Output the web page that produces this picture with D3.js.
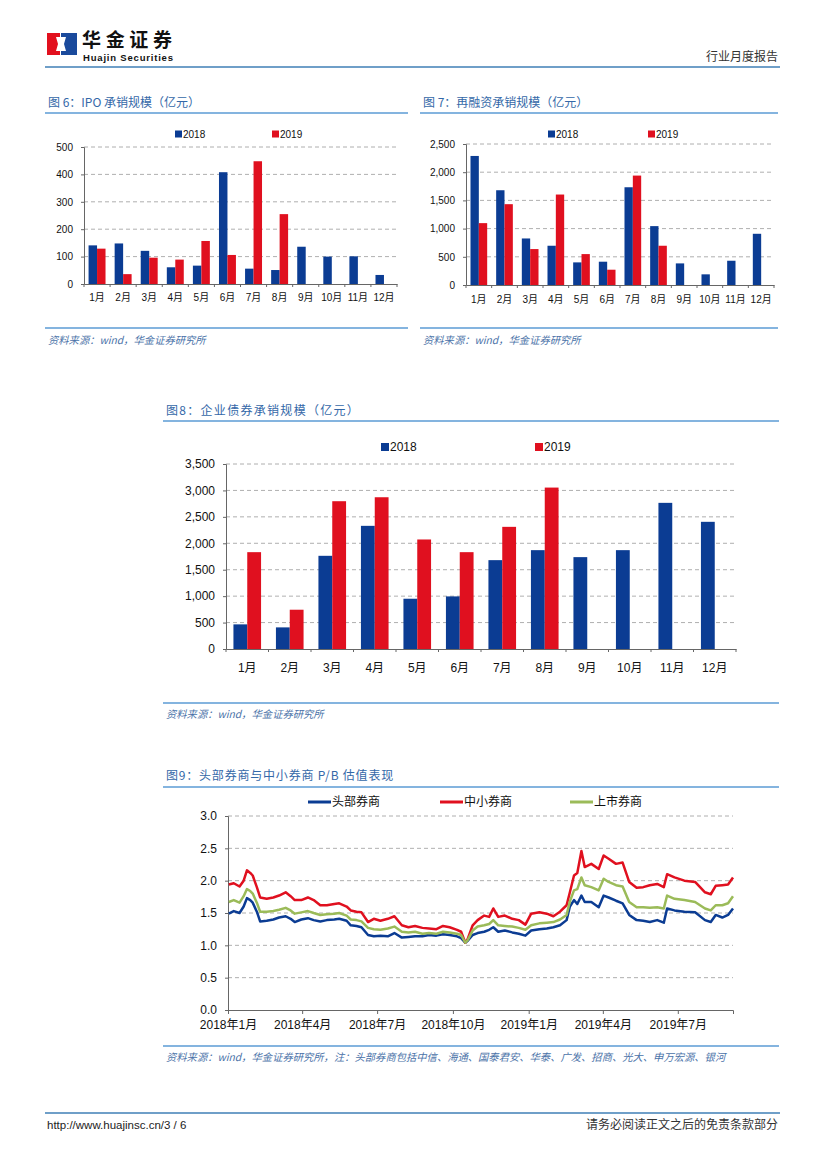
<!DOCTYPE html>
<html>
<head>
<meta charset="utf-8">
<script src="https://cdn.jsdelivr.net/npm/d3@7"></script>
<style>
  body { margin: 0; background: #fff; }
  svg { display: block; }
  text { font-family: "Liberation Sans", Arial, "Noto Sans CJK SC", sans-serif; }
  .cn { font-family: "Noto Sans CJK SC", "Liberation Sans", sans-serif; }
</style>
</head>
<body>
<svg id="page" width="827" height="1169"></svg>
<script>
const months = ['1月', '2月', '3月', '4月', '5月', '6月', '7月', '8月', '9月', '10月', '11月', '12月'];
const years = ['2018', '2019'];

const ipo2018 = [141, 148, 121, 61, 67, 408, 56, 51, 136, 100, 101, 33];
const ipo2019 = [129, 36, 96, 89, 157, 106, 448, 255, null, null, null, null];
const ipoTicks = [0, 100, 200, 300, 400, 500];

const refi2018 = [2288, 1680, 825, 696, 401, 413, 1733, 1044, 383, 189, 430, 908];
const refi2019 = [1097, 1433, 637, 1604, 548, 271, 1940, 696, null, null, null, null];
const refiTicks = [0, 500, 1000, 1500, 2000, 2500];

const bond2018 = [466, 409, 1763, 2330, 951, 995, 1681, 1870, 1738, 1870, 2765, 2406];
const bond2019 = [1832, 743, 2796, 2871, 2072, 1832, 2311, 3054, null, null, null, null];
const bondTicks = [0, 500, 1000, 1500, 2000, 2500, 3000, 3500];

// P/B series
const pbDates = [
  '2018-01-02', '2018-01-08', '2018-01-15', '2018-01-20', '2018-01-24', '2018-01-28', '2018-01-31',
  '2018-02-05', '2018-02-09', '2018-02-17', '2018-02-25', '2018-03-04', '2018-03-12', '2018-03-18',
  '2018-03-23', '2018-03-31', '2018-04-08', '2018-04-15', '2018-04-23', '2018-05-01', '2018-05-10',
  '2018-05-16', '2018-05-25', '2018-05-30', '2018-06-06', '2018-06-12', '2018-06-20', '2018-06-27',
  '2018-07-05', '2018-07-14', '2018-07-22', '2018-07-31', '2018-08-08', '2018-08-16', '2018-08-25',
  '2018-09-02', '2018-09-11', '2018-09-19', '2018-09-27', '2018-10-06', '2018-10-11', '2018-10-16',
  '2018-10-19', '2018-10-25', '2018-10-31', '2018-11-08', '2018-11-14', '2018-11-19', '2018-11-25',
  '2018-12-03', '2018-12-12', '2018-12-20', '2018-12-28', '2019-01-04', '2019-01-14', '2019-01-23',
  '2019-01-31', '2019-02-08', '2019-02-16', '2019-02-20', '2019-02-25', '2019-03-01', '2019-03-06',
  '2019-03-10', '2019-03-18', '2019-03-27', '2019-04-02', '2019-04-08', '2019-04-17', '2019-04-25',
  '2019-05-03', '2019-05-12', '2019-05-20', '2019-05-28', '2019-06-06', '2019-06-14', '2019-06-18',
  '2019-06-27', '2019-07-09', '2019-07-22', '2019-08-03', '2019-08-10', '2019-08-16', '2019-08-24',
  '2019-08-31', '2019-09-06'
];
const pbSmall = [
  1.94, 1.96, 1.91, 2.00, 2.16, 2.12, 2.08, 1.90, 1.74, 1.72, 1.74, 1.77, 1.82, 1.76,
  1.70, 1.70, 1.74, 1.70, 1.62, 1.62, 1.64, 1.65, 1.60, 1.54, 1.52, 1.51, 1.36, 1.41,
  1.38, 1.41, 1.45, 1.31, 1.28, 1.30, 1.27, 1.26, 1.25, 1.30, 1.28, 1.24, 1.21, 1.04,
  1.10, 1.31, 1.39, 1.46, 1.44, 1.57, 1.44, 1.46, 1.41, 1.39, 1.32, 1.49, 1.51, 1.49,
  1.45, 1.52, 1.62, 1.82, 2.08, 2.12, 2.46, 2.21, 2.26, 2.18, 2.39, 2.34, 2.26, 2.28,
  1.98, 1.89, 1.90, 1.93, 1.95, 1.90, 2.10, 2.05, 2.00, 1.98, 1.82, 1.79, 1.92, 1.93,
  1.94, 2.05
];
const pbListed = [
  1.67, 1.70, 1.66, 1.76, 1.87, 1.84, 1.80, 1.66, 1.52, 1.52, 1.53, 1.55, 1.58, 1.54,
  1.49, 1.51, 1.53, 1.50, 1.47, 1.48, 1.49, 1.50, 1.46, 1.40, 1.39, 1.37, 1.27, 1.25,
  1.24, 1.26, 1.29, 1.21, 1.20, 1.21, 1.18, 1.19, 1.18, 1.21, 1.20, 1.18, 1.16, 1.04,
  1.08, 1.23, 1.29, 1.31, 1.33, 1.39, 1.31, 1.30, 1.29, 1.27, 1.24, 1.31, 1.34, 1.35,
  1.36, 1.40, 1.47, 1.68, 1.85, 1.87, 2.05, 1.93, 1.90, 1.85, 2.03, 1.98, 1.93, 1.91,
  1.67, 1.59, 1.59, 1.58, 1.59, 1.57, 1.77, 1.72, 1.70, 1.67, 1.57, 1.54, 1.62, 1.62,
  1.65, 1.76
];
const pbTop = [
  1.49, 1.53, 1.50, 1.60, 1.73, 1.70, 1.66, 1.52, 1.37, 1.38, 1.40, 1.43, 1.45, 1.41,
  1.36, 1.40, 1.42, 1.39, 1.37, 1.39, 1.40, 1.41, 1.38, 1.31, 1.30, 1.28, 1.16, 1.14,
  1.15, 1.14, 1.19, 1.12, 1.13, 1.14, 1.14, 1.16, 1.15, 1.17, 1.16, 1.14, 1.11, 1.04,
  1.07, 1.16, 1.19, 1.21, 1.24, 1.28, 1.21, 1.23, 1.20, 1.18, 1.15, 1.23, 1.25, 1.26,
  1.28, 1.31, 1.39, 1.60, 1.70, 1.64, 1.77, 1.67, 1.67, 1.59, 1.77, 1.74, 1.69, 1.65,
  1.47, 1.39, 1.38, 1.36, 1.39, 1.35, 1.57, 1.54, 1.52, 1.51, 1.39, 1.36, 1.47, 1.43,
  1.47, 1.57
];
const pbNames = ['头部券商', '中小券商', '上市券商'];
const pbTicks = [0, 0.5, 1.0, 1.5, 2.0, 2.5, 3.0];
const pbAxisDates = ['2018-01-01', '2018-04-01', '2018-07-01', '2018-10-01', '2019-01-01', '2019-04-01', '2019-07-01'];

const BLUE = '#0b3c93';
const RED = '#e0101f';
const GREEN = '#9bbb59';
const TITLE = '#3468a8';
const RULE = '#5b9bd5';
const GRID = '#9a9a9a';

const svg = d3.select('#page');

// ---- header / footer
const logo = svg.append('g');
logo.append('rect').attr('x', 47).attr('y', 33).attr('width', 13).attr('height', 22).attr('fill', '#e2101e');
logo.append('rect').attr('x', 61).attr('y', 33).attr('width', 16).attr('height', 22).attr('fill', '#1a4a9c');
logo.append('polygon').attr('points', '56,37 60,37 60,51 56,51 58,44').attr('fill', '#fff');
logo.append('polygon').attr('points', '61,37 66,37 64,44 66,51 61,51').attr('fill', '#fff');
svg.append('text').attr('class', 'cn').attr('x', 82).attr('y', 47).attr('font-size', 19).attr('font-weight', 'bold')
  .attr('fill', '#111').attr('textLength', 90).text('华金证券');
svg.append('text').attr('x', 83).attr('y', 61).attr('font-size', 9.5).attr('font-weight', 'bold')
  .attr('fill', '#111').attr('textLength', 90).text('Huajin Securities');
svg.append('text').attr('class', 'cn').attr('x', 778).attr('y', 61).attr('text-anchor', 'end')
  .attr('font-size', 12).attr('fill', '#333').text('行业月度报告');
svg.append('line').attr('x1', 45).attr('x2', 780).attr('y1', 67).attr('y2', 67)
  .attr('stroke', '#3f7fb6').attr('stroke-width', 1.5);

svg.append('line').attr('x1', 45).attr('x2', 780).attr('y1', 1113).attr('y2', 1113)
  .attr('stroke', '#3f7fb6').attr('stroke-width', 1.5);
svg.append('text').attr('x', 47).attr('y', 1129).attr('font-size', 11.5).attr('fill', '#222')
  .text('http://www.huajinsc.cn/3 / 6');
svg.append('text').attr('class', 'cn').attr('x', 778).attr('y', 1129).attr('text-anchor', 'end')
  .attr('font-size', 12).attr('fill', '#333').text('请务必阅读正文之后的免责条款部分');

// ---- frame: title, rules, source
const frame = (o) => {
  svg.append('text').attr('class', 'cn').attr('x', o.x1 + 3).attr('y', o.titleY)
    .attr('font-size', 12).attr('letter-spacing', o.spacing || 0).attr('fill', TITLE).text(o.title);
  svg.append('line').attr('x1', o.x1).attr('x2', o.x2).attr('y1', o.ruleTop).attr('y2', o.ruleTop)
    .attr('stroke', RULE).attr('stroke-width', 1.5);
  svg.append('line').attr('x1', o.x1).attr('x2', o.x2).attr('y1', o.ruleBottom).attr('y2', o.ruleBottom)
    .attr('stroke', RULE).attr('stroke-width', 1.5);
  svg.append('text').attr('class', 'cn').attr('x', o.x1 + 3).attr('y', o.sourceY)
    .attr('font-size', 10.3).attr('font-style', 'italic').attr('fill', '#4a72a8').text(o.source);
};

// ---- grouped bar chart
const barChart = (o) => {
  const g = svg.append('g');
  const x0 = d3.scaleBand().domain(months).range([o.left, o.right]).paddingInner(0.35).paddingOuter(0.175);
  const x1 = d3.scaleBand().domain(years).range([0, x0.bandwidth()]);
  const y = d3.scaleLinear().domain([0, d3.max(o.ticks)]).range([o.bottom, o.top]);

  g.selectAll('.grid').data(o.ticks.filter(t => t > 0)).join('line')
    .attr('x1', o.left).attr('x2', o.right).attr('y1', d => y(d)).attr('y2', d => y(d))
    .attr('stroke', GRID).attr('stroke-dasharray', '4,3').attr('stroke-width', 0.8);

  const rows = months.map((m, i) => ({ m, v: [o.a[i], o.b[i]] }));
  const grp = g.selectAll('.grp').data(rows).join('g').attr('transform', d => `translate(${x0(d.m)},0)`);
  grp.selectAll('rect').data(d => years.map((k, j) => ({ k, v: d.v[j] })).filter(d => d.v != null))
    .join('rect')
    .attr('x', d => x1(d.k)).attr('width', x1.bandwidth())
    .attr('y', d => y(d.v)).attr('height', d => o.bottom - y(d.v))
    .attr('fill', d => (d.k === '2018' ? BLUE : RED));

  const yAxis = g.append('g').attr('transform', `translate(${o.left},0)`)
    .call(d3.axisLeft(y).tickValues(o.ticks).tickSize(3).tickPadding(o.tickPad || 8).tickFormat(d3.format(',')));
  yAxis.select('.domain').attr('stroke', '#666');
  yAxis.selectAll('.tick line').attr('stroke', '#666');
  yAxis.selectAll('text').attr('font-size', o.fontSize).attr('fill', '#111')
    .style('font-family', '"Liberation Sans", Arial, sans-serif');

  const xAxis = g.append('g').attr('transform', `translate(0,${o.bottom})`)
    .call(d3.axisBottom(x0).tickSize(0).tickPadding(o.xPad));
  xAxis.select('.domain').attr('stroke', '#666');
  xAxis.selectAll('text').attr('font-size', o.fontSize).attr('fill', '#111')
    .style('font-family', '"Liberation Sans", "Noto Sans CJK SC", sans-serif');
  g.selectAll('.sep').data(d3.range(months.length + 1)).join('line')
    .attr('x1', i => o.left + i * x0.step()).attr('x2', i => o.left + i * x0.step())
    .attr('y1', o.bottom).attr('y2', o.bottom + 3).attr('stroke', '#666');

  years.forEach((k, j) => {
    const lx = o.legend[j];
    g.append('rect').attr('x', lx).attr('y', o.legendY - o.sq / 2).attr('width', o.sq).attr('height', o.sq)
      .attr('fill', k === '2018' ? BLUE : RED);
    g.append('text').attr('x', lx + o.sq + 1).attr('y', o.legendY).attr('dy', '0.36em')
      .attr('font-size', o.fontSize).attr('fill', '#111').text(k);
  });
};

frame({ x1: 45, x2: 408, title: '图 6：IPO 承销规模（亿元）', titleY: 107, ruleTop: 113, ruleBottom: 328,
  sourceY: 344, source: '资料来源：wind，华金证券研究所' });
barChart({ left: 84, right: 397, top: 147, bottom: 284, ticks: ipoTicks, a: ipo2018, b: ipo2019,
  fontSize: 10, xPad: 10, legend: [175, 272], legendY: 134, sq: 7 });

frame({ x1: 420, x2: 778, title: '图 7：再融资承销规模（亿元）', titleY: 107, ruleTop: 113, ruleBottom: 328,
  sourceY: 344, source: '资料来源：wind，华金证券研究所' });
barChart({ left: 466, right: 774, top: 144, bottom: 285, ticks: refiTicks, a: refi2018, b: refi2019,
  fontSize: 10, xPad: 11, legend: [548, 648], legendY: 134, sq: 7 });

frame({ x1: 163, x2: 779, title: '图8：企业债券承销规模（亿元）', titleY: 415, ruleTop: 421, ruleBottom: 703,
  sourceY: 718, source: '资料来源：wind，华金证券研究所', spacing: 1.3 });
barChart({ left: 226, right: 736, top: 464, bottom: 649, ticks: bondTicks, a: bond2018, b: bond2019,
  fontSize: 12, xPad: 14, legend: [381, 535], legendY: 447, sq: 8 });

// ---- P/B lines
frame({ x1: 163, x2: 779, title: '图9：头部券商与中小券商 P/B 估值表现', titleY: 780, ruleTop: 787, ruleBottom: 1046,
  sourceY: 1061, source: '资料来源：wind，华金证券研究所，注：头部券商包括中信、海通、国泰君安、华泰、广发、招商、光大、申万宏源、银河',
  spacing: 0.8 });

const parse = d3.timeParse('%Y-%m-%d');
const dates = pbDates.map(parse);
const pl = { left: 228, right: 733, top: 816, bottom: 1010 };
const xt = d3.scaleTime().domain([parse('2018-01-01'), d3.max(dates)]).range([pl.left, pl.right]);
const yl = d3.scaleLinear().domain([0, 3]).range([pl.bottom, pl.top]);
const lg = svg.append('g');

lg.selectAll('.grid').data(pbTicks.filter(t => t > 0)).join('line')
  .attr('x1', pl.left).attr('x2', pl.right).attr('y1', d => yl(d)).attr('y2', d => yl(d))
  .attr('stroke', GRID).attr('stroke-dasharray', '4,3').attr('stroke-width', 0.8);

const ly = lg.append('g').attr('transform', `translate(${pl.left},0)`)
  .call(d3.axisLeft(yl).tickValues(pbTicks).tickSize(3).tickPadding(8).tickFormat(d3.format('.1f')));
ly.select('.domain').attr('stroke', '#666');
ly.selectAll('.tick line').attr('stroke', '#666');
ly.selectAll('text').attr('font-size', 12).attr('fill', '#111');

const lx = lg.append('g').attr('transform', `translate(0,${pl.bottom})`)
  .call(d3.axisBottom(xt).tickValues(pbAxisDates.map(parse)).tickSize(4).tickPadding(6)
    .tickFormat(d => `${d.getFullYear()}年${d.getMonth() + 1}月`));
lx.select('.domain').attr('stroke', '#666');
lx.selectAll('.tick line').attr('stroke', '#666');
lx.selectAll('text').attr('font-size', 12).attr('fill', '#111')
  .style('font-family', '"Liberation Sans", "Noto Sans CJK SC", sans-serif');

const series = [
  { name: pbNames[0], v: pbTop, c: BLUE },
  { name: pbNames[1], v: pbSmall, c: RED },
  { name: pbNames[2], v: pbListed, c: GREEN },
];
const line = d3.line().x((d, i) => xt(dates[i])).y(d => yl(d));
series.forEach((s) => {
  lg.append('path').datum(s.v).attr('d', line).attr('fill', 'none')
    .attr('stroke', s.c).attr('stroke-width', 2.5).attr('stroke-linejoin', 'round');
});

const legX = [308, 440, 570];
series.forEach((s, i) => {
  lg.append('line').attr('x1', legX[i]).attr('x2', legX[i] + 23).attr('y1', 802).attr('y2', 802)
    .attr('stroke', s.c).attr('stroke-width', 3);
  lg.append('text').attr('class', 'cn').attr('x', legX[i] + 24).attr('y', 802).attr('dy', '0.36em')
    .attr('font-size', 12).attr('fill', '#111').text(s.name);
});
</script>
</body>
</html>
